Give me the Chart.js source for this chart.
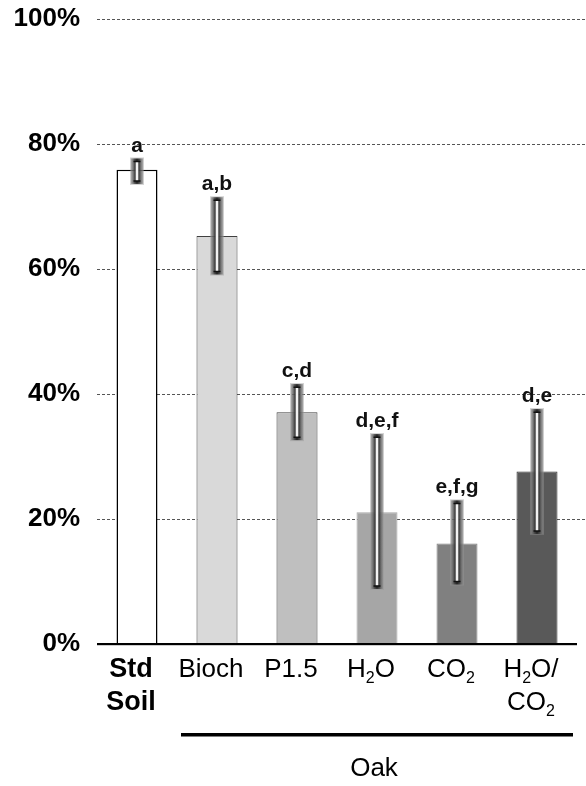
<!DOCTYPE html>
<html>
<head>
<meta charset="utf-8">
<script src="https://cdn.jsdelivr.net/npm/chart.js@4.4.1/dist/chart.umd.min.js"></script>
<style>
  html, body { margin: 0; padding: 0; background: #fff; }
  #wrap { width: 586px; height: 786px; position: relative; }
</style>
</head>
<body>
<div id="wrap"><canvas id="c" width="586" height="786"></canvas></div>
<script>
// ---- data ----
const categories = ['Std Soil', 'Bioch', 'P1.5', 'H₂O', 'CO₂', 'H₂O/CO₂'];
const tickLines = [['Std', 'Soil'], ['Bioch'], ['P1.5'], ['H₂O'], ['CO₂'], ['H₂O/', 'CO₂']];
const values = [75.9, 65.3, 37.1, 21.1, 16.1, 27.6];
const errHigh = [77.2, 71.0, 41.1, 33.1, 22.5, 37.1];
const errLow = [74.1, 59.6, 33.1, 9.3, 10.0, 18.1];
const letters = ['a', 'a,b', 'c,d', 'd,e,f', 'e,f,g', 'd,e'];
const groupLabel = 'Oak';
const yTicks = [0, 20, 40, 60, 80, 100];

// ---- styles ----
const fills = ['#ffffff', '#d9d9d9', '#bfbfbf', '#a6a6a6', '#808080', '#595959'];
const borders = ['#000000', '#404040', '#404040', '#a6a6a6', '#808080', '#303030'];
const FONT = '"Liberation Sans", Arial, Helvetica, sans-serif';

function drawRich(ctx, text, cx, baseline, size, bold) {
  const w = bold ? 'bold ' : '';
  const segs = [];
  let buf = '';
  for (const ch of text) {
    if (ch === '₂') { if (buf) segs.push({t: buf, sub: false}); buf = ''; segs.push({t: '2', sub: true}); }
    else buf += ch;
  }
  if (buf) segs.push({t: buf, sub: false});
  let total = 0;
  segs.forEach(s => {
    ctx.font = w + (s.sub ? Math.round(size * 0.62) : size) + 'px ' + FONT;
    s.w = ctx.measureText(s.t).width;
    total += s.w;
  });
  let x = cx - total / 2;
  ctx.textAlign = 'left';
  ctx.textBaseline = 'alphabetic';
  ctx.fillStyle = '#000';
  segs.forEach(s => {
    ctx.font = w + (s.sub ? Math.round(size * 0.62) : size) + 'px ' + FONT;
    ctx.fillText(s.t, x, baseline + (s.sub ? size * 0.22 : 0));
    x += s.w;
  });
}

const decor = {
  id: 'decor',
  beforeDatasetsDraw(chart) {
    const {ctx, chartArea, scales: {y}} = chart;
    ctx.save();
    ctx.setLineDash([3, 2]);
    ctx.lineWidth = 1;
    ctx.strokeStyle = '#555';
    yTicks.forEach(v => {
      if (v === 0) return;
      const py = Math.round(y.getPixelForValue(v)) + 0.5;
      ctx.beginPath();
      ctx.moveTo(chartArea.left, py);
      ctx.lineTo(chart.width, py);
      ctx.stroke();
    });
    ctx.restore();
  },
  afterDatasetsDraw(chart) {
    const {ctx, chartArea, scales: {x, y}} = chart;
    ctx.save();
    // base axis line
    const y0 = y.getPixelForValue(0);
    ctx.fillStyle = '#000';
    ctx.fillRect(chartArea.left, y0 - 1, chartArea.right - chartArea.left, 2.2);
    // error bars
    values.forEach((v, i) => {
      const cx = x.getPixelForValue(i);
      const yt = y.getPixelForValue(errHigh[i]);
      const yb = y.getPixelForValue(errLow[i]);
      const h = yb - yt;
      ctx.fillStyle = 'rgba(150,150,150,0.45)';
      ctx.fillRect(cx - 7, yt - 4, 14, h + 8);
      const g = ctx.createLinearGradient(cx - 6, 0, cx + 6, 0);
      g.addColorStop(0, 'rgba(130,130,130,0.5)');
      g.addColorStop(0.3, 'rgba(60,60,60,0.9)');
      g.addColorStop(0.5, '#222');
      g.addColorStop(0.7, 'rgba(60,60,60,0.9)');
      g.addColorStop(1, 'rgba(130,130,130,0.5)');
      ctx.fillStyle = g;
      ctx.fillRect(cx - 6, yt - 3, 12, h + 6);
      ctx.fillStyle = '#f2f2f2';
      ctx.fillRect(cx - 1.3, yt, 2.6, h);
      ctx.strokeStyle = '#111';
      ctx.lineWidth = 1.5;
      ctx.beginPath();
      ctx.moveTo(cx - 3.5, yt); ctx.lineTo(cx + 3.5, yt);
      ctx.moveTo(cx - 3.5, yb); ctx.lineTo(cx + 3.5, yb);
      ctx.stroke();
      // significance letters
      ctx.font = 'bold 21px ' + FONT;
      ctx.textAlign = 'center';
      ctx.textBaseline = 'alphabetic';
      ctx.fillStyle = '#111';
      ctx.fillText(letters[i], cx, yt - 10);
    });
    // category labels
    tickLines.forEach((lines, i) => {
      const cx = x.getPixelForValue(i) - 6;
      lines.forEach((ln, k) => {
        drawRich(ctx, ln, cx, y0 + 33 + k * 33, i === 0 ? 27 : 26, i === 0);
      });
    });
    // group line + label
    const gx0 = x.getPixelForValue(1) - 36;
    const gx1 = chartArea.right - 4;
    ctx.fillStyle = '#000';
    ctx.fillRect(gx0, y0 + 89, gx1 - gx0, 3.5);
    drawRich(ctx, groupLabel, (gx0 + gx1) / 2 - 3, y0 + 132, 26, false);
    ctx.restore();
  }
};

new Chart(document.getElementById('c'), {
  type: 'bar',
  data: {
    labels: categories,
    datasets: [{
      data: values,
      backgroundColor: fills,
      borderColor: borders,
      borderWidth: [1.5, 1, 1, 1, 1, 1],
      barPercentage: 1,
      categoryPercentage: 0.5125
    }]
  },
  options: {
    responsive: false,
    animation: false,
    layout: { padding: { top: 19, right: 9, left: 0, bottom: 0 } },
    plugins: { legend: { display: false }, tooltip: { enabled: false } },
    scales: {
      x: {
        grid: { display: false, drawTicks: false },
        border: { display: false },
        ticks: { display: false },
        afterFit(s) { s.height = 142; s.paddingLeft = 0; s.paddingRight = 0; }
      },
      y: {
        min: 0, max: 100,
        grid: { display: false, drawTicks: false },
        border: { display: false },
        afterBuildTicks(s) { s.ticks = yTicks.map(v => ({value: v})); },
        ticks: {
          padding: 17,
          color: '#000',
          font: { family: FONT, size: 26, weight: 'bold' },
          callback: v => v + '%'
        },
        afterFit(s) { s.width = 97; s.paddingTop = 0; s.paddingBottom = 0; }
      }
    }
  },
  plugins: [decor]
});
</script>
</body>
</html>
